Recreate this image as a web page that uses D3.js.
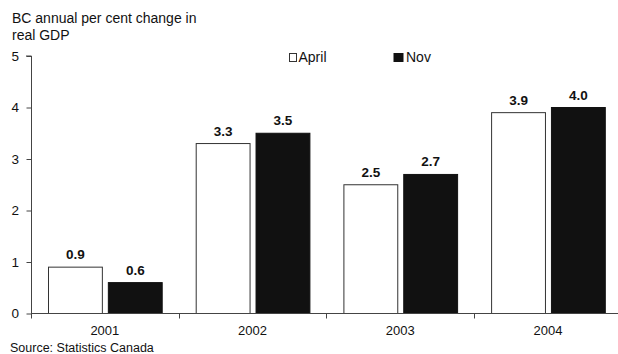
<!DOCTYPE html>
<html>
<head>
<meta charset="utf-8">
<script src="https://cdn.jsdelivr.net/npm/d3@7"></script>
<style>
  html, body { margin: 0; padding: 0; background: #fff; }
  svg { display: block; font-family: Arial, "Liberation Sans", sans-serif; }
</style>
</head>
<body>
<svg id="chart" width="618" height="354"></svg>
<script>
// Real GDP growth forecasts for British Columbia, by year
const years = ["2001", "2002", "2003", "2004"];
const seriesNames = ["April", "Nov"];
const aprilValues = [0.9, 3.3, 2.5, 3.9];
const novValues = [0.6, 3.5, 2.7, 4.0];
const yTicks = [0, 1, 2, 3, 4, 5];
const titleLines = ["BC annual per cent change in", "real GDP"];
const sourceText = "Source: Statistics Canada";

const svg = d3.select("#chart");
const axisColor = "#444";
const fills = { April: "#ffffff", Nov: "#111111" };
const strokes = { April: "#333333", Nov: "#111111" };

const plotLeft = 31, plotRight = 621.8, plotTop = 56, plotBottom = 313.5;

const x0 = d3.scaleBand().domain(years).range([plotLeft, plotRight]).paddingInner(0).paddingOuter(0);
const bw = x0.bandwidth();
const x1 = d3.scaleBand().domain(seriesNames).range([17, bw - 17]).paddingInner(0.1).paddingOuter(0);
const y = d3.scaleLinear().domain([0, 5]).range([plotBottom, plotTop]);

const rows = years.map((yr, i) => ({ year: yr, April: aprilValues[i], Nov: novValues[i] }));

// Title
svg.append("g").selectAll("text").data(titleLines).join("text")
  .attr("x", 12).attr("y", (d, i) => 23 + i * 16.5)
  .attr("font-size", 14).attr("fill", "#111").text(d => d);

// Bars
const groups = svg.append("g").selectAll("g").data(rows).join("g")
  .attr("transform", d => `translate(${x0(d.year)},0)`);

groups.selectAll("rect").data(d => seriesNames.map(s => ({ s, v: d[s] }))).join("rect")
  .attr("x", d => x1(d.s) + 0.5)
  .attr("y", d => y(d.v))
  .attr("width", x1.bandwidth())
  .attr("height", d => y(0) - y(d.v))
  .attr("fill", d => fills[d.s])
  .attr("stroke", d => strokes[d.s])
  .attr("stroke-width", 1);

// Value labels
groups.selectAll("text").data(d => seriesNames.map(s => ({ s, v: d[s] }))).join("text")
  .attr("x", d => x1(d.s) + x1.bandwidth() / 2 + 0.5)
  .attr("y", d => y(d.v) - 8)
  .attr("text-anchor", "middle")
  .attr("font-size", 13.5).attr("font-weight", "bold").attr("fill", "#111")
  .text(d => d.v.toFixed(1));

// Y axis
const yAxis = svg.append("g").attr("transform", `translate(${plotLeft},0)`)
  .call(d3.axisLeft(y).tickValues(yTicks).tickSize(5).tickPadding(7).tickFormat(d3.format("d")));
yAxis.attr("font-family", null);
yAxis.select(".domain").attr("stroke", axisColor).attr("d", `M0.5,${y(0)}V${y(5)}H-5`);
yAxis.selectAll(".tick line").attr("stroke", axisColor).attr("transform", "translate(0.5,0)");
yAxis.selectAll(".tick text").attr("font-size", 13.5).attr("fill", "#111");

// X axis: baseline, boundary ticks, centred year labels
const xAxis = svg.append("g").attr("transform", `translate(0,${plotBottom})`);
xAxis.append("line").attr("x1", plotLeft).attr("x2", plotRight)
  .attr("y1", 0).attr("y2", 0).attr("stroke", axisColor);
const boundaries = years.map(d => x0(d)).concat([plotRight]);
xAxis.selectAll(".bt").data(boundaries).join("line").attr("class", "bt")
  .attr("x1", d => Math.round(d) + 0.5).attr("x2", d => Math.round(d) + 0.5)
  .attr("y1", 0).attr("y2", 5).attr("stroke", axisColor);
xAxis.selectAll(".yl").data(years).join("text").attr("class", "yl")
  .attr("x", d => x0(d) + bw / 2).attr("y", 21.5)
  .attr("text-anchor", "middle").attr("font-size", 13).attr("fill", "#111")
  .text(d => d);

// Legend
const legendPos = { April: 289.5, Nov: 394 };
const legend = svg.append("g").selectAll("g").data(seriesNames).join("g")
  .attr("transform", d => `translate(${legendPos[d]},53.5)`);
legend.append("rect").attr("width", d => d === "Nov" ? 9 : 7).attr("height", 8)
  .attr("fill", d => fills[d]).attr("stroke", d => strokes[d]);
legend.append("text").attr("x", d => d === "Nov" ? 12 : 9).attr("y", 8.5)
  .attr("font-size", 14).attr("fill", "#111").text(d => d);

// Source note
svg.append("text").attr("x", 10).attr("y", 352)
  .attr("font-size", 12.5).attr("fill", "#111").text(sourceText);
</script>
</body>
</html>
